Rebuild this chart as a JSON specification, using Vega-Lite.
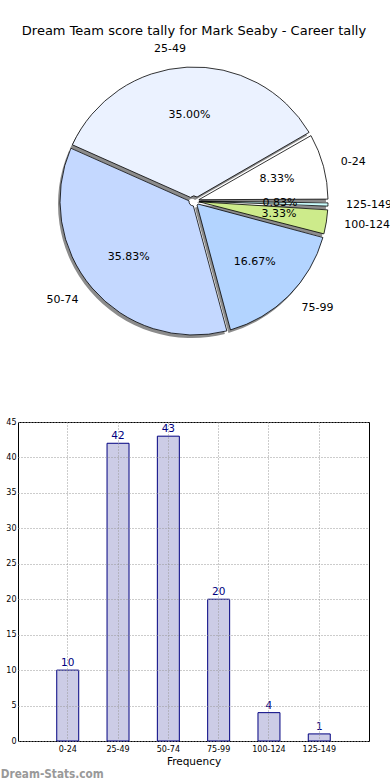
{
  "$schema": "https://vega.github.io/schema/vega-lite/v6.json",
  "padding": {"left": 0, "top": 25, "right": 0, "bottom": 0},
  "background": "white",
  "config": {
    "font": "DejaVu Sans",
    "view": {"stroke": "black", "strokeWidth": 1}
  },
  "datasets": {
    "tally": [
      {"lo": 0, "label": "0-24", "count": 10, "pct": "8.33%"},
      {"lo": 25, "label": "25-49", "count": 42, "pct": "35.00%"},
      {"lo": 50, "label": "50-74", "count": 43, "pct": "35.83%"},
      {"lo": 75, "label": "75-99", "count": 20, "pct": "16.67%"},
      {"lo": 100, "label": "100-124", "count": 4, "pct": "3.33%"},
      {"lo": 125, "label": "125-149", "count": 1, "pct": "0.83%"}
    ]
  },
  "spacing": 58,
  "vconcat": [
    {
      "title": {"text": "Dream Team score tally for Mark Seaby - Career tally", "fontSize": 13, "fontWeight": "normal", "font": "DejaVu Sans", "color": "black", "anchor": "middle", "offset": 5},
      "width": 352,
      "height": 316,
      "view": {"stroke": null},
      "data": {"name": "tally"},
      "encoding": {
        "theta": {"field": "count", "type": "quantitative", "stack": true, "scale": {"range": [1.5707963, 7.8539816]}},
        "order": {"field": "lo", "type": "quantitative", "sort": "descending"}
      },
      "layer": [
        {
          "mark": {"type": "arc", "radius": 134, "innerRadius": 5, "padAngle": 0.028, "fill": "#8c8c8c", "xOffset": -2, "yOffset": 3}
        },
        {
          "mark": {"type": "arc", "radius": 134, "innerRadius": 5, "padAngle": 0.028, "stroke": "black", "strokeWidth": 0.8},
          "encoding": {
            "color": {"field": "label", "type": "nominal", "legend": null,
              "scale": {"domain": ["0-24", "25-49", "50-74", "75-99", "100-124", "125-149"],
                        "range": ["#ffffff", "#ebf2ff", "#c4d8ff", "#b3d4ff", "#cdeb8b", "#ccffff"]}}
          }
        },
        {
          "mark": {"type": "text", "radius": 86, "fontSize": 11, "color": "black", "align": "center", "baseline": "middle"},
          "encoding": {"text": {"field": "pct"}, "detail": {"field": "label"}}
        },
        {
          "mark": {"type": "text", "radius": 152, "fontSize": 11, "color": "black", "align": "left", "baseline": "middle"},
          "encoding": {
            "text": {"condition": {"test": "datum.lo != 25 && datum.lo != 50", "field": "label"}, "value": ""},
            "detail": {"field": "label"}
          }
        },
        {
          "mark": {"type": "text", "radius": 152, "fontSize": 11, "color": "black", "align": "right", "baseline": "middle"},
          "encoding": {
            "text": {"condition": {"test": "datum.lo == 25 || datum.lo == 50", "field": "label"}, "value": ""},
            "detail": {"field": "label"}
          }
        }
      ]
    },
    {
      "title": {"text": "Dream-Stats.com", "orient": "bottom", "anchor": "start", "frame": "bounds", "fontSize": 11.7, "font": "DejaVu Sans Condensed", "fontWeight": "bold", "color": "#999999", "offset": 2, "dx": -5},
      "width": 351,
      "height": 319,
      "data": {"name": "tally"},
      "encoding": {
        "x": {"field": "label", "type": "nominal",
          "sort": ["0-24", "25-49", "50-74", "75-99", "100-124", "125-149"],
          "scale": {"paddingInner": 0.563, "paddingOuter": 0.77},
          "axis": {"title": "Frequency", "titleFontSize": 10.5, "titleFontWeight": "normal", "titlePadding": 3, "titleColor": "black",
                   "labelAngle": 0, "labelFontSize": 8, "labelColor": "black", "labelPadding": 4, "ticks": false, "domain": false,
                   "grid": true, "gridDash": [1, 2], "gridColor": "#999999", "gridWidth": 1, "bandPosition": 0.5, "zindex": 1}},
        "y": {"field": "count", "type": "quantitative",
          "scale": {"domain": [0, 45], "nice": false},
          "axis": {"title": null, "values": [0, 5, 10, 15, 20, 25, 30, 35, 40, 45], "labelFontSize": 8, "labelColor": "black",
                   "labelPadding": 2, "ticks": false, "domain": false,
                   "grid": true, "gridDash": [1, 2], "gridColor": "#999999", "gridWidth": 1, "zindex": 1}}
      },
      "layer": [
        {"mark": {"type": "bar", "fill": "#cccce6", "stroke": "#000080", "strokeWidth": 1}},
        {"mark": {"type": "text", "baseline": "bottom", "dy": -2, "fontSize": 10.5, "color": "#000080"},
         "encoding": {"text": {"field": "count", "type": "quantitative"}}}
      ]
    }
  ]
}
